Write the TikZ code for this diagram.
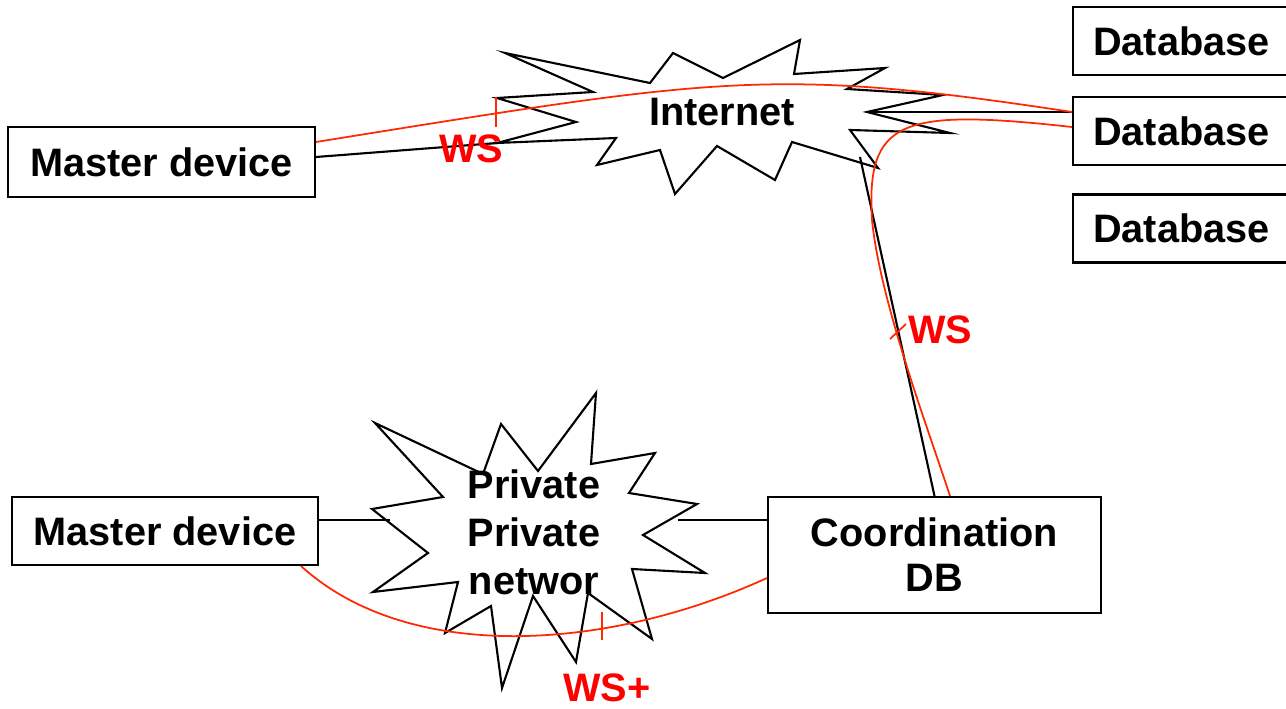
\documentclass[tikz,border=0pt]{standalone}
\usepackage{fontspec}
\setmainfont{Liberation Sans}
\usetikzlibrary{calc}
\definecolor{wsred}{RGB}{255,40,0}
\def\boxfont{\bfseries\fontsize{22.6}{25.6}\selectfont}

\tikzset{
	link/.style={line width=1.2pt, line join=miter},
	wslink/.style={wsred, line width=1pt},
	devbox/.style={draw, line width=1.2pt, inner sep=0pt, font=\boxfont},
	dbbox/.style={devbox, anchor=west, text width=4cm, align=left, inner xsep=0.4cm, minimum height=1.36cm},
	wslabel/.style={text=red, font=\boxfont, inner sep=0pt}
}

\begin{document}
\begin{tikzpicture}[x=0.02cm,y=-0.02cm]
	\useasboundingbox (0,0) rectangle (1286,709);
	
	%BOXES
	\node[devbox, minimum width=6.14cm, minimum height=1.4cm] (master1) at (161.5,162) {Master device};
	\node[devbox, minimum width=6.12cm, minimum height=1.36cm] (master2) at (165,531) {Master device};
	\node[devbox, minimum width=6.66cm, minimum height=2.32cm, align=center] (coord) at (934.5,555) {Coordination\\DB};
	%
	\node[dbbox] (db1) at (1072,41) {Database};
	\node[dbbox] (db2) at (1072,131) {Database};
	\node[dbbox] (db3) at (1072,228.5) {Database};
	
	%CLOUDS
	\draw[link] (505,53) -- (650,83) -- (673,53) -- (723,78) -- (800,40) -- (794,74) -- (885,68) -- (847,89)
		-- (943,95) -- (867,112) coordinate (inete) -- (950,133) -- (850,130) -- (878,168) -- (792,142) -- (775,180)
		-- (717,146) -- (675,194) -- (660,150) -- (597,165) -- (616,138) -- (497,143) coordinate (inetw)
		-- (576,122) -- (497,98) -- (593,92) -- cycle;
	\coordinate (inets) at (860,157);
	\node[font=\boxfont] (inet) at (722,112) {Internet};
	%
	\draw[link] (372,509) -- (443,497) -- (375,423) -- (483,474) -- (501,424) -- (538,471) -- (596,393) -- (591,464)
		-- (655,453) -- (629,493) -- (697,504) -- (643,535) -- (705,573) -- (632,569) -- (652,639) -- (588,593)
		-- (576,662) -- (533,596) -- (502,688) -- (491,606) -- (445,633) -- (458,582) -- (373,592) -- (428,553) -- cycle;
	\coordinate (privw) at (390,520);
	\coordinate (prive) at (678,520);
	\node[font=\bfseries\fontsize{22.6}{27.3}\selectfont, align=center] (priv) at (534,532) {Private\\Private\\networ};
	
	%BLACK LINKS
	\draw[link] ($(master1.east)+(0,-5)$) -- (inetw);
	\draw[link] ($(db2.west)+(0,-19)$) -- (inete);
	\draw[link] (coord.north) -- (inets);
	\draw[link] ($(master2.east)+(-2,-11)$) -- (privw);
	\draw[link] (prive) -- ($(coord.west)+(0,-35)$);
	
	%WS LINKS
	\draw[wslink] ($(master1.east)+(0,-20)$) .. controls (715,78) and (771,66) .. ($(db2.west)+(0,-19)$);
	\draw[wslink] ($(db2.west)+(0,-4)$) .. controls (900,108) and (866,120) .. (872,220)
		.. controls (880,300) and (925,420) .. ($(coord.north)+(15.5,0)$);
	\draw[wslink] ($(master2.south east)+(-18,0)$) .. controls (410,665) and (610,650) .. ($(coord.west)+(0,23)$);
	%
	\draw[wslink] (496,97) -- (496,127);
	\draw[wslink] (890,339) -- (906,324);
	\draw[wslink] (602,612) -- (602,640);
	
	%LABELS
	\node[wslabel] (ws1) at (471,149) {WS};
	\node[wslabel] (ws2) at (940,330) {WS};
	\node[wslabel] (ws3) at (607,688) {WS+};
\end{tikzpicture}
\end{document}
